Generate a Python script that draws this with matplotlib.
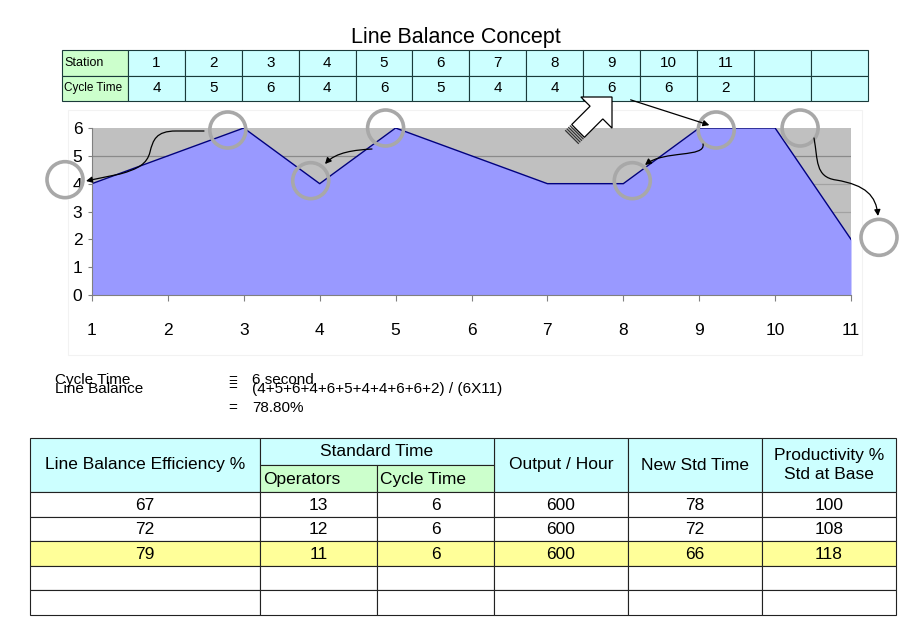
import numpy as np
import matplotlib
matplotlib.use("Agg")
import matplotlib.pyplot as plt
from matplotlib.patches import Rectangle, Circle, Polygon, FancyArrowPatch
from matplotlib.path import Path

# ---------------- data ----------------
stations = [1, 2, 3, 4, 5, 6, 7, 8, 9, 10, 11]
cycle_times = [4, 5, 6, 4, 6, 5, 4, 4, 6, 6, 2]
y_ticks = [0, 1, 2, 3, 4, 5, 6]
line_balance_text = "78.80%"

eff = [67, 72, 79]
operators = [13, 12, 11]
std_cycle = [6, 6, 6]
output_hr = [600, 600, 600]
new_std = [78, 72, 66]
productivity = [100, 108, 118]

W, H = 920, 637
fig = plt.figure(figsize=(W / 100, H / 100), dpi=100)
fig.patch.set_facecolor("white")

SANS = ["Liberation Sans", "DejaVu Sans"]
NARROW = ["Liberation Sans Narrow", "Liberation Sans", "DejaVu Sans"]

# ---------------- chart ----------------
x0, x1, ytop, ybot = 92, 851, 128, 295
ax = fig.add_axes([x0 / W, 1 - ybot / H, (x1 - x0) / W, (ybot - ytop) / H])
ax.set_facecolor("#C0C0C0")
ax.set_xlim(1, 11)
ax.set_ylim(0, 6)
for g in y_ticks[1:-1]:
    ax.axhline(g, color="#8A8A8A" if g == 5 else "#A2A2A2", lw=0.9, zorder=0.5)
ax.fill_between(stations, cycle_times, 0, color="#9999FF", lw=0, zorder=1)
ax.plot(stations, cycle_times, color="#000080", lw=1.0, zorder=2)
for s in ["top", "right"]:
    ax.spines[s].set_visible(False)
for s in ["left", "bottom"]:
    ax.spines[s].set_color("#808080")
    ax.spines[s].set_linewidth(0.8)
ax.set_xticks(stations)
ax.set_yticks(y_ticks)
ax.tick_params(axis="x", length=4, color="#808080", pad=16, labelsize=12.5)
ax.tick_params(axis="y", length=3, color="#808080", pad=4, labelsize=12.5)
for lab in ax.get_xticklabels() + ax.get_yticklabels():
    lab.set_fontfamily(SANS)

# ---------------- overlay (pixel coordinates) ----------------
ov = fig.add_axes([0, 0, 1, 1], zorder=5)
ov.set_xlim(0, W)
ov.set_ylim(H, 0)
ov.axis("off")
ov.patch.set_alpha(0)


def px(xd, yd):
    X, Y = ax.transData.transform((xd, yd))
    return X, H - Y


# faint chart-area frame
ov.add_patch(Rectangle((68, 110), 794, 245, fill=False, ec="#F2F2F2", lw=0.8, zorder=0))

# title
ov.text(456, 38, "Line Balance Concept", ha="center", va="center", fontsize=15.5,
        family=SANS, color="black")

# top table
tx0, cw0, cw = 62, 66, 56.9
rows_y = [50, 75.5, 101]
ncols = 13
for r in range(2):
    ov.add_patch(Rectangle((tx0, rows_y[r]), cw0, rows_y[r + 1] - rows_y[r],
                           fc="#CCFFCC", ec="#1A3A3A", lw=0.8))
    for c in range(ncols):
        ov.add_patch(Rectangle((tx0 + cw0 + c * cw, rows_y[r]), cw, rows_y[r + 1] - rows_y[r],
                               fc="#CCFFFF", ec="#1A3A3A", lw=0.8))
ov.text(tx0 + 2, (rows_y[0] + rows_y[1]) / 2, "Station", ha="left", va="center",
        fontsize=9, family=NARROW)
ov.text(tx0 + 2, (rows_y[1] + rows_y[2]) / 2, "Cycle Time", ha="left", va="center",
        fontsize=8.5, family=NARROW)
for i, (s, ct) in enumerate(zip(stations, cycle_times)):
    cx = tx0 + cw0 + (i + 0.5) * cw
    ov.text(cx, (rows_y[0] + rows_y[1]) / 2, str(s), ha="center", va="center",
            fontsize=11, family=SANS)
    ov.text(cx, (rows_y[1] + rows_y[2]) / 2, str(ct), ha="center", va="center",
            fontsize=11, family=SANS)

# circles (offsets relative to the data points)
circ_specs = [((1, 4), (-27, -4)), ((3, 6), (-16, 2)), ((4, 4), (-9, -3)),
              ((5, 6), (-10, 0)), ((8, 4), (9, -3)), ((9, 6), (17, 2)),
              ((10, 6), (25, 0)), ((11, 2), (28, -2))]
for (xd, yd), (dx, dy) in circ_specs:
    X, Y = px(xd, yd)
    ov.add_patch(Circle((X + dx, Y + dy), 18, fill=False, ec="#A8A8A8", lw=2.6, zorder=6))


def curve_arrow(verts, codes):
    p = Path(verts, codes)
    a = FancyArrowPatch(path=p, arrowstyle="-|>", mutation_scale=9, lw=0.9,
                        color="black", zorder=7)
    ov.add_patch(a)


M, L, C4 = Path.MOVETO, Path.LINETO, Path.CURVE4
curve_arrow([(204, 131), (176, 131), (156, 131), (153, 140), (150, 152),
             (147, 164), (138, 169), (120, 174), (86, 181)],
            [M, L, C4, C4, C4, C4, C4, C4, L])
curve_arrow([(372, 149), (355, 150), (336, 152), (325, 164)], [M, C4, C4, C4])
curve_arrow([(703, 144), (706, 158), (664, 150), (645, 165)], [M, C4, C4, C4])
curve_arrow([(814, 138), (818, 160), (815, 177), (836, 180),
             (866, 185), (876, 196), (878, 216)],
            [M, C4, C4, C4, C4, C4, C4])
ov.add_patch(FancyArrowPatch((628, 99), (712, 126), arrowstyle="-|>",
                             mutation_scale=9, lw=0.9, color="black", zorder=7))

# block arrow (white, outlined) pointing up-right
T = np.array([612.0, 97.0])
d = np.array([1.0, -1.0]) / np.sqrt(2)
pp = np.array([1.0, 1.0]) / np.sqrt(2)
h, w, s, Ls = 22, 22, 9, 26
Cb = T - h * d
pts = [T, Cb + w * pp, Cb + s * pp, Cb + s * pp - Ls * d,
       Cb - s * pp - Ls * d, Cb - s * pp, Cb - w * pp]
ov.add_patch(Polygon(pts, closed=True, fc="white", ec="black", lw=0.9, zorder=8))
for k in range(4):
    base = Cb - (Ls + 2 + 2.2 * k) * d
    a, b = base + s * pp, base - s * pp
    ov.plot([a[0], b[0]], [a[1], b[1]], color="#333333", lw=0.9, zorder=8)

# formula text
FS = 11
ov.text(55, 380, "Cycle Time", ha="left", va="center", fontsize=FS, family=SANS)
ov.text(55, 389, "Line Balance", ha="left", va="center", fontsize=FS, family=SANS)
ov.text(228, 380, "=", ha="left", va="center", fontsize=FS, family=SANS)
ov.text(228, 387, "=", ha="left", va="center", fontsize=FS, family=SANS)
ov.text(252, 380, "6 second", ha="left", va="center", fontsize=FS, family=SANS)
ov.text(252, 389, "(" + "+".join(str(c) for c in cycle_times) + ") / (6X11)",
        ha="left", va="center", fontsize=FS, family=SANS)
ov.text(228, 408, "=", ha="left", va="center", fontsize=FS, family=SANS)
ov.text(252, 408, line_balance_text, ha="left", va="center",
        fontsize=FS, family=SANS)

# bottom table
cols = [30, 260, 377, 494, 628, 762, 896]
hy0, hmid, hy1 = 438, 465, 492
rlines = [492, 517, 541, 566, 590, 615]
EC = "#222222"
TFS = 12.5
# header cells
for (ca, cb), lab in zip([(0, 1), (3, 4), (4, 5), (5, 6)],
                         ["Line Balance Efficiency %", "Output / Hour", "New Std Time",
                          "Productivity %\nStd at Base"]):
    ov.add_patch(Rectangle((cols[ca], hy0), cols[cb] - cols[ca], hy1 - hy0,
                           fc="#CCFFFF", ec=EC, lw=0.8))
    ov.text((cols[ca] + cols[cb]) / 2, (hy0 + hy1) / 2, lab, ha="center", va="center",
            fontsize=TFS, family=NARROW, linespacing=1.3)
ov.add_patch(Rectangle((cols[1], hy0), cols[3] - cols[1], hmid - hy0,
                       fc="#CCFFFF", ec=EC, lw=0.8))
ov.text((cols[1] + cols[3]) / 2, (hy0 + hmid) / 2, "Standard Time", ha="center",
        va="center", fontsize=TFS, family=NARROW)
for c, lab in [(1, "Operators"), (2, "Cycle Time")]:
    ov.add_patch(Rectangle((cols[c], hmid), cols[c + 1] - cols[c], hy1 - hmid,
                           fc="#CCFFCC", ec=EC, lw=0.8))
    ov.text(cols[c] + 3, (hmid + hy1) / 2 + 1, lab, ha="left", va="center",
            fontsize=TFS, family=NARROW)

table_cols = [eff, operators, std_cycle, output_hr, new_std, productivity]
for r in range(len(rlines) - 1):
    fc = "#FFFF99" if r == 2 else "white"
    for c in range(6):
        ov.add_patch(Rectangle((cols[c], rlines[r]), cols[c + 1] - cols[c],
                               rlines[r + 1] - rlines[r], fc=fc, ec=EC, lw=0.8))
        if r < len(eff):
            ov.text((cols[c] + cols[c + 1]) / 2, (rlines[r] + rlines[r + 1]) / 2 + 1,
                    str(table_cols[c][r]), ha="center", va="center",
                    fontsize=TFS, family=NARROW)

fig.savefig("out.png", dpi=100, facecolor="white")
